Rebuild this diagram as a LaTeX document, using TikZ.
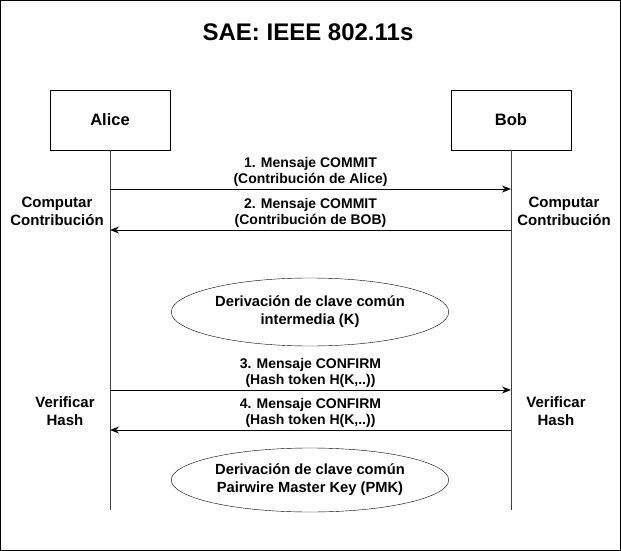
\documentclass[tikz,border=0pt]{standalone}
\usepackage{fontspec}
\setmainfont{Liberation Sans}
\usetikzlibrary{arrows.meta,shapes.geometric}
\begin{document}
\begin{tikzpicture}[x=1pt,y=-1pt,
  box/.style={draw,minimum width=120pt,minimum height=60pt,font=\bfseries\fontsize{16.5}{19}\selectfont},
  lbl/.style={font=\bfseries\fontsize{14}{16}\selectfont,align=center},
  side/.style={font=\bfseries\fontsize{15}{18}\selectfont,align=center},
  ell/.style={draw,ellipse,minimum width=250pt,minimum height=68pt,font=\bfseries\fontsize{14.7}{18}\selectfont,align=center},
  msg/.style={-{Stealth[length=9pt,width=7pt]},line width=1pt}]
\draw[line width=0.8pt] (0.5,0.5) rectangle (620.5,550.5);
\useasboundingbox (0,0) rectangle (621,551);
\node[font=\bfseries\fontsize{24}{28}\selectfont] (title) at (308,32) {SAE: IEEE 802.11s};
\node[box] (alice) at (110,120) {Alice};
\node[box] (bob) at (511,120) {Bob};
\coordinate (ae) at (110,510);
\coordinate (be) at (511,510);
\draw[line width=0.6pt,gray!50!black] (alice.south) -- (ae);
\draw[line width=0.6pt,gray!50!black] (bob.south) -- (be);
\coordinate (a1) at (110,189); \coordinate (b1) at (511,189);
\coordinate (a2) at (110,230); \coordinate (b2) at (511,230);
\coordinate (a3) at (110,390); \coordinate (b3) at (511,390);
\coordinate (a4) at (110,430); \coordinate (b4) at (511,430);
\draw[msg] (a1) -- node[lbl,above,yshift=-1pt] {1. Mensaje COMMIT\\(Contribución de Alice)} (b1);
\draw[msg] (b2) -- node[lbl,above,yshift=-1pt] {2. Mensaje COMMIT\\(Contribución de BOB)} (a2);
\draw[msg] (a3) -- node[lbl,above,yshift=-1pt] {3. Mensaje CONFIRM\\(Hash token H(K,..))} (b3);
\draw[msg] (b4) -- node[lbl,above,yshift=-1pt] {4. Mensaje CONFIRM\\(Hash token H(K,..))} (a4);
\node[side,fill=white,inner sep=1pt] (cl) at (57,211) {Computar\\Contribución};
\node[side,fill=white,inner sep=1pt] (cr) at (564,211) {Computar\\Contribución};
\node[side,fill=white,inner sep=1pt] (vl) at (65,411) {Verificar\\Hash};
\node[side,fill=white,inner sep=1pt] (vr) at (556,411) {Verificar\\Hash};
\node[ell] (e1) at (310,312) {Derivación de clave común\\intermedia (K)};
\node[ell,minimum height=64pt] (e2) at (310,480) {Derivación de clave común\\Pairwire Master Key (PMK)};
\end{tikzpicture}
\end{document}
